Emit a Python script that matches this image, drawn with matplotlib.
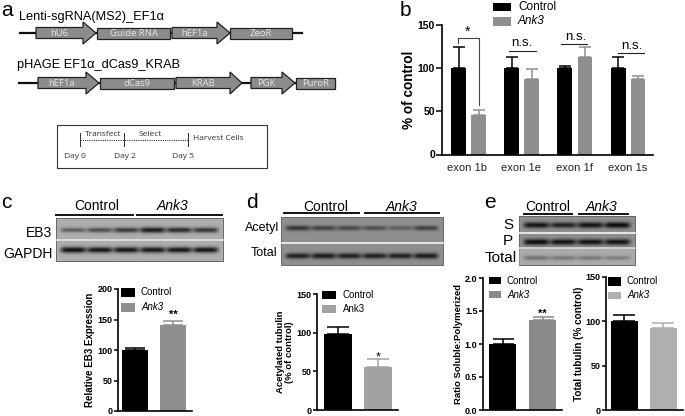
import numpy as np
import matplotlib
matplotlib.use('Agg')
import matplotlib.pyplot as plt
from matplotlib.patches import Polygon, Rectangle

plt.rcParams['font.family'] = ['Liberation Sans', 'DejaVu Sans']
W, H = 685, 416

# --- data ---
exons = ['exon 1b', 'exon 1e', 'exon 1f', 'exon 1s']
b_control = [100, 100, 100, 100]
b_control_top = [124, 113, 103, 113]
b_ank3 = [46, 88, 113, 88]
b_ank3_top = [52, 99, 124, 91]

c_vals = [100, 141]
c_tops = [104, 148]
d_vals = [98, 56]
d_tops = [107, 66]
e1_vals = [1.0, 1.36]
e1_tops = [1.08, 1.41]
e2_vals = [100, 93]
e2_tops = [107, 98]

# band darkness per lane
c_eb3 = [0.5, 0.6, 0.72, 0.92, 0.82, 0.75]
c_gapdh = [1.0, 0.95, 0.95, 0.95, 0.95, 0.95]
d_acetyl = [0.7, 0.6, 0.55, 0.5, 0.4, 0.6]
d_total = [0.85, 0.9, 0.85, 0.85, 0.85, 0.9]
e_s = [0.95, 0.85, 0.95, 1.0]
e_p = [1.0, 0.95, 0.95, 0.95]
e_total = [0.55, 0.5, 0.5, 0.45]

fig = plt.figure(figsize=(W / 100, H / 100), dpi=100)
bg = fig.add_axes([0, 0, 1, 1])
bg.axis('off')


def label(x, y, s, size=9.5, ha='left', **kw):
    bg.text(x, y, s, fontsize=size, ha=ha, va='center', **kw)


# --- schematic helpers ---
def arrow(x0, x1, head, yc, name):
    pts = [(x0, yc - 5.5), (head, yc - 5.5), (head, yc - 11), (x1, yc), (head, yc + 11),
           (head, yc + 5.5), (x0, yc + 5.5)]
    bg.add_patch(Polygon(pts, fc='#8c8c8c', ec='#222222', lw=0.9, zorder=3))
    bg.text((x0 + head) / 2, yc, name, color='#e4e4e4', fontsize=6.8, ha='center', va='center',
            family='Open Sans', zorder=4)


def box(x0, x1, yc, name):
    bg.add_patch(Rectangle((x0, yc - 5.5), x1 - x0, 11, fc='#8c8c8c', ec='#222222', lw=0.9, zorder=3))
    bg.text((x0 + x1) / 2, yc, name, color='#e4e4e4', fontsize=6.8, ha='center', va='center',
            family='Open Sans', zorder=4)


# --- panel a ---
label(1, 10, 'a', 15)
label(19, 17, 'Lenti-sgRNA(MS2)_EF1α', 9.2)
bg.plot([20, 302], [33, 33], color='#111111', lw=1.6, zorder=1)
arrow(36, 96, 83, 33, 'hU6')
box(97, 170, 33, 'Guide RNA')
arrow(172, 230, 217, 33, 'hEF1a')
box(230, 292, 33, 'ZeoR')

label(17, 65, 'pHAGE EF1α_dCas9_KRAB', 9.2)
bg.plot([19, 335], [83, 83], color='#111111', lw=1.6, zorder=1)
arrow(38, 99, 86, 83, 'hEF1a')
box(100, 174, 83, 'dCas9')
arrow(176, 242, 230, 83, 'KRAB')
arrow(251, 295, 282, 83, 'PGK')
box(296, 335, 83, 'PuroR')

bg.add_patch(Rectangle((57, 125), 210, 43, fc='white', ec='#333333', lw=0.8))
for x in [80, 124, 188]:
    bg.plot([x, x], [133, 146], color='#333333', lw=0.7)
bg.plot([80, 188], [139.5, 139.5], color='#333333', lw=0.8, ls=(0, (1, 1)))
for x, s in [(75, 'Day 0'), (125, 'Day 2'), (183, 'Day 5')]:
    bg.text(x, 156, s, fontsize=6, ha='center', va='center', family='Open Sans', color='#333333')
bg.text(103, 134, 'Transfect', fontsize=6, ha='center', va='center', family='Open Sans', color='#333333')
bg.text(150, 134, 'Select', fontsize=6, ha='center', va='center', family='Open Sans', color='#333333')
bg.text(193, 139, 'Harvest Cells', fontsize=6, ha='left', va='center', family='Open Sans', color='#333333')


# --- western blots ---
def blot(x0, x1, y0, y1, rows, shade=0.66):
    """rows: list of (top, bottom, band darkness per lane)."""
    ny, nx = int(y1 - y0) * 3, int(x1 - x0) * 3
    img = np.full((ny, nx), shade)
    ys = np.linspace(y0, y1, ny)
    xs = np.linspace(x0, x1, nx)
    for top, bottom, bands in rows:
        yc = (top + bottom) / 2
        n = len(bands)
        step = (x1 - x0 - 8) / n
        for i, dark in enumerate(bands):
            xc = x0 + 4 + step * (i + 0.5)
            px = np.exp(-((xs - xc) / (step * 0.48)) ** 6)
            py = np.exp(-((ys - yc) / (1.6 + dark * 1.4)) ** 2)
            img -= np.outer(py, px) * dark * shade * 0.92
    bg.imshow(np.clip(img, 0, 1), cmap='gray', vmin=0, vmax=1, extent=[x0, x1, y1, y0],
              aspect='auto', interpolation='bilinear', zorder=1)
    bg.add_patch(Rectangle((x0, y0), x1 - x0, y1 - y0, fc='none', ec='#666666', lw=0.7, zorder=2))


def heading(x0, x1, x2, x3, yline, ytext, xc1, xc2, size=10):
    bg.plot([x0, x1], [yline, yline], color='#111111', lw=1.4)
    bg.plot([x2, x3], [yline, yline], color='#111111', lw=1.4)
    label(xc1, ytext, 'Control', size, ha='center')
    label(xc2, ytext, 'Ank3', size, ha='center', style='italic')


def white_bar(x0, x1, y, color='white'):
    bg.plot([x0, x1], [y, y], color=color, lw=1.1, zorder=3)


# panel c blot
label(1, 202, 'c', 15)
heading(56, 133, 137, 222, 215, 206, 97, 173)
blot(56, 223, 218, 261, [(222, 238, c_eb3), (242, 258, c_gapdh)], shade=0.68)
white_bar(56, 223, 240, '#e8e8e8')
label(52, 233, 'EB3', 10, ha='right')
label(53, 254, 'GAPDH', 10, ha='right')

# panel d blot
label(246, 202, 'd', 15)
heading(284, 359, 365, 439, 213, 207, 326, 402)
blot(281, 443, 217, 265, [(219, 237, d_acetyl), (248, 264, d_total)], shade=0.56)
white_bar(281, 443, 243)
label(279, 228, 'Acetyl', 9, ha='right')
label(277, 253, 'Total', 9, ha='right')

# panel e blot
label(484, 202, 'e', 15)
heading(524, 572, 579, 628, 214, 207, 548, 602)
blot(519, 635, 216, 265, [(218, 232, e_s), (235, 249, e_p), (250, 266, e_total)], shade=0.56)
bg.add_patch(Rectangle((519, 248), 116, 17, fc='white', alpha=0.25, ec='none', zorder=2))
white_bar(519, 635, 233)
white_bar(519, 635, 248, '#dddddd')
label(513, 225, 'S', 11, ha='right')
label(513, 241, 'P', 11, ha='right')
label(517, 258, 'Total', 11, ha='right')

bg.set_xlim(0, W)
bg.set_ylim(H, 0)


# --- bar panels ---
def bar_axes(x0, x1, ytop, ybot, ylim, ticks, fmt='{:.0f}', tick_size=6.5):
    ax = fig.add_axes([x0 / W, 1 - ybot / H, (x1 - x0) / W, (ybot - ytop) / H])
    ax.patch.set_alpha(0)
    ax.set_xlim(x0, x1)
    ax.set_ylim(0, ylim)
    ax.set_yticks(ticks)
    ax.set_yticklabels([fmt.format(t) for t in ticks], fontsize=tick_size, fontweight='bold')
    ax.set_xticks([])
    ax.tick_params(axis='y', length=3, width=1.1, pad=1)
    for side in ['top', 'right']:
        ax.spines[side].set_visible(False)
    for side in ['left', 'bottom']:
        ax.spines[side].set_linewidth(1.2)
    return ax


def bars(ax, xs, width, vals, tops, colors):
    for x, v, t, c in zip(xs, vals, tops, colors):
        ax.bar(x, v, width=width, color=c, zorder=2)
        ax.errorbar(x, v, yerr=[[0], [t - v]], color=c, capsize=width * 0.28, lw=1.1, capthick=1.1, zorder=1)


def legend(x0, x1, y1a, y1b, y2a, y2b, xt, yt1, yt2, gray, size=7, ank='Ank3', style='italic'):
    bg.add_patch(Rectangle((x0, y1a), x1 - x0, y1b - y1a, fc='black', ec='none'))
    bg.add_patch(Rectangle((x0, y2a), x1 - x0, y2b - y2a, fc=gray, ec='none'))
    label(xt, yt1, 'Control', size)
    label(xt, yt2, ank, size, style=style)


# panel b
label(400, 10, 'b', 15)
axb = bar_axes(442, 653, 25, 154.5, 150, [0, 50, 100, 150], tick_size=7.5)
axb.tick_params(axis='y', length=4)
axb.set_ylabel('% of control', fontsize=9.8, fontweight='bold', labelpad=1)
groups = np.arange(len(exons))
pos_control = 458.5 + groups * 53.2
pos_ank3 = 478.5 + groups * 53.2
bars(axb, pos_control, 15, b_control, b_control_top, ['black'] * 4)
bars(axb, pos_ank3, 14.5, b_ank3, b_ank3_top, ['#8f8f8f'] * 4)
for x, s in zip([467, 521, 574, 628], exons):
    label(x, 168, s, 8, ha='center', color='#222222')
legend(493, 511, 3, 11, 17, 26, 518, 7, 21, '#8f8f8f', size=8.5)
bg.plot([458, 458, 479, 479], [43, 38, 38, 105], color='#444444', lw=0.8)
label(468, 32, '*', 10, ha='center')
for x0, x1, yl, xt, yt in [(509, 536, 51, 522, 43), (561, 587, 44, 576, 37), (618, 644, 53, 632, 46)]:
    bg.plot([x0, x1], [yl, yl], color='#222222', lw=0.8)
    label(xt, yt, 'n.s.', 9.5, ha='center')

# panel c
axc = bar_axes(118, 192, 289, 411, 200, [0, 50, 100, 150, 200])
axc.set_ylabel('Relative EB3 Expression', fontsize=7, fontweight='bold', labelpad=1.5)
bars(axc, [135, 173], 26, c_vals, c_tops, ['black', '#8f8f8f'])
legend(121, 135, 288, 297, 303, 312, 141, 292, 307, '#8f8f8f')
label(173, 315, '**', 8, ha='center', fontweight='bold')

# panel d
axd = bar_axes(317, 398, 294, 410, 150, [0, 50, 100, 150])
axd.set_ylabel('Acetylated tubulin\n(% of control)', fontsize=6.8, fontweight='bold', labelpad=1.5, linespacing=1)
bars(axd, [338, 378], 28, d_vals, d_tops, ['black', '#a2a2a2'])
legend(322, 336, 291, 299, 305, 313, 343, 295, 309, '#a2a2a2', ank='Ank3', style='normal')
label(378, 357, '*', 9, ha='center')

# panel e, ratio
axe1 = bar_axes(483, 562, 278, 410, 2.0, [0, 0.5, 1.0, 1.5, 2.0], fmt='{:.1f}')
axe1.set_ylabel('Ratio Soluble:Polymerized', fontsize=6.8, fontweight='bold', labelpad=1.5)
bars(axe1, [502.5, 542.5], 27, e1_vals, e1_tops, ['black', '#8a8a8a'])
legend(489, 501, 277, 284, 291, 298, 507, 281, 295, '#8a8a8a')
label(542, 314, '**', 8, ha='center', fontweight='bold')

# panel e, total tubulin
axe2 = bar_axes(606, 683, 277, 410, 150, [0, 50, 100, 150])
axe2.set_ylabel('Total tubulin (% control)', fontsize=7.2, fontweight='bold', labelpad=1)
bars(axe2, [624.5, 663.5], 27.5, e2_vals, e2_tops, ['black', '#b0b0b0'])
legend(608, 621, 277, 286, 292, 299, 627, 281, 295, '#b0b0b0')

fig.savefig('out.png', dpi=100)
